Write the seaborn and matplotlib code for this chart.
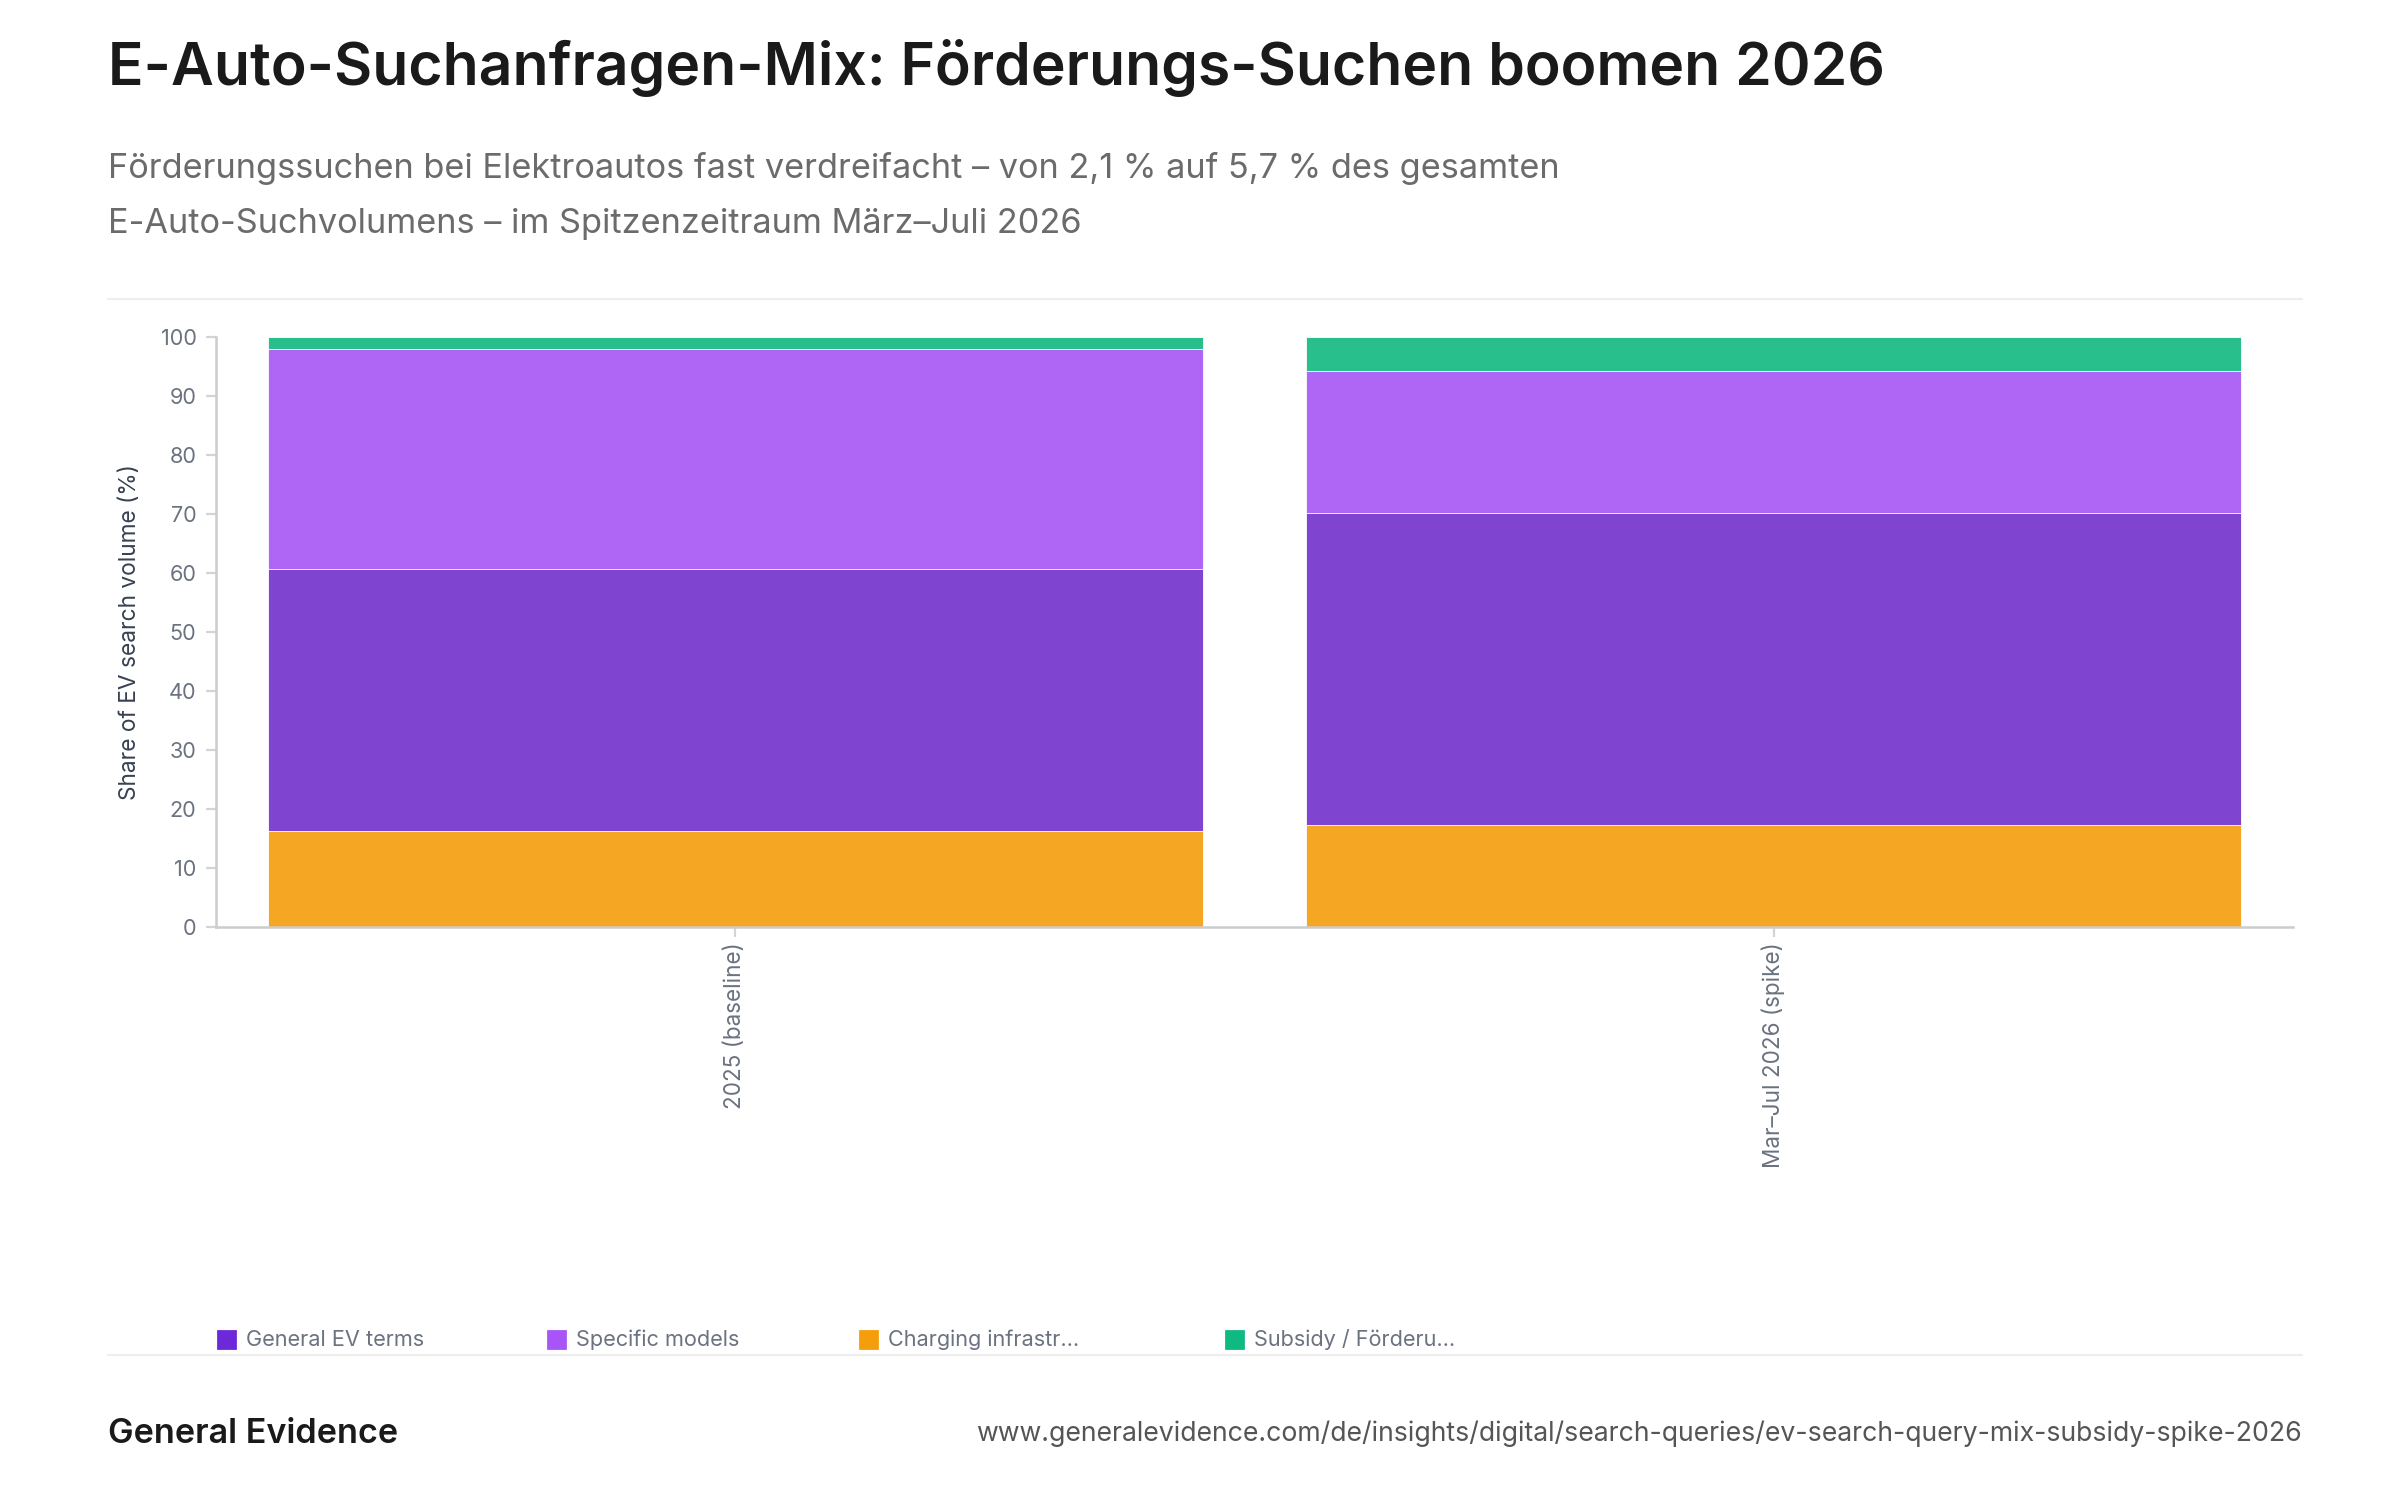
import matplotlib
matplotlib.use("Agg")
import matplotlib.pyplot as plt
from matplotlib.patches import Rectangle
from matplotlib.lines import Line2D
import numpy as np
import pandas as pd
import seaborn as sns

# data (share of EV search volume, %)
periods = ["2025 (baseline)", "Mar–Jul 2026 (spike)"]
charging = [16.3, 17.3]
general = [44.3, 52.8]
specific = [37.3, 24.2]
subsidy = [2.1, 5.7]

legend_labels = ["General EV terms", "Specific models", "Charging infrastr…", "Subsidy / Förderu…"]

# bar colours (as drawn) and legend swatch colours
bar_colors = {"charging": "#F5A623", "general": "#7F45D1", "specific": "#AF66F5", "subsidy": "#28BF8D"}
swatch_colors = ["#6D28D9", "#A855F7", "#F59E0B", "#10B981"]

FONT = ["Inter", "DejaVu Sans"]

sns.set_theme(style="white")
plt.rcParams["font.family"] = FONT

df = pd.DataFrame({
    "Period": periods,
    "charging": charging,
    "general": general,
    "specific": specific,
    "subsidy": subsidy,
})
# cumulative tops, stacked bottom-up: charging, general, specific, subsidy
layers = ["charging", "general", "specific", "subsidy"]
cum = df[layers].cumsum(axis=1)
cum["Period"] = df["Period"]

fig = plt.figure(figsize=(12, 7.5), dpi=200)
ax = fig.add_axes([0.09, 0.382, 0.8654, 0.3933])

# draw from the top layer down so each shorter bar sits over the taller one
for layer in reversed(layers):
    sns.barplot(data=cum, x="Period", y=layer,
                color=bar_colors[layer], width=0.9, saturation=1,
                edgecolor="white", linewidth=0.3, ax=ax)

ax.set_xlim(-0.5, 1.5)
ax.set_ylim(0, 100)
ax.set_yticks(np.arange(0, 101, 10))
ax.set_xlabel("")
ax.set_ylabel("Share of EV search volume (%)", fontsize=8.2, color="#374151", labelpad=7)
ax.tick_params(axis="both", colors="#d1d5db", labelcolor="#6b7280", labelsize=7.8,
               length=3.5, width=0.8, left=True, bottom=True)
ax.tick_params(axis="x", labelrotation=90, pad=2, labelsize=8.1)
for side in ["top", "right"]:
    ax.spines[side].set_visible(False)
for side in ["left", "bottom"]:
    ax.spines[side].set_color("#cccccc")
    ax.spines[side].set_linewidth(0.9)

# header
fig.text(0.045, 0.9433, "E-Auto-Suchanfragen-Mix: Förderungs-Suchen boomen 2026",
         fontsize=21.2, fontweight="semibold", color="#1a1a1a", va="baseline", ha="left")
fig.text(0.045, 0.8813, "Förderungssuchen bei Elektroautos fast verdreifacht – von 2,1 % auf 5,7 % des gesamten",
         fontsize=12.35, color="#6b6b6b", va="baseline", ha="left")
fig.text(0.045, 0.8447, "E-Auto-Suchvolumens – im Spitzenzeitraum März–Juli 2026",
         fontsize=12.35, color="#6b6b6b", va="baseline", ha="left")
fig.add_artist(Line2D([0.045, 0.959], [0.8007, 0.8007], color="#eeeeee", lw=0.8,
                      transform=fig.transFigure))

# legend row
leg_x = [0.0908, 0.2283, 0.3583, 0.5108]
leg_y = 0.1067
sq_w, sq_h = 17 / 2400, 17 / 1500
for x, label, col in zip(leg_x, legend_labels, swatch_colors):
    fig.add_artist(Rectangle((x, leg_y - sq_h / 2), sq_w, sq_h, color=col,
                             transform=fig.transFigure))
    fig.text(x + 0.0117, leg_y, label, fontsize=7.8, color="#6b7280", va="center", ha="left")

fig.add_artist(Line2D([0.045, 0.959], [0.0967, 0.0967], color="#eeeeee", lw=0.8,
                      transform=fig.transFigure))

# footer
fig.text(0.045, 0.044, "General Evidence", fontsize=12.3, fontweight="semibold",
         color="#1a1a1a", va="center", ha="left")
fig.text(0.959, 0.044,
         "www.generalevidence.com/de/insights/digital/search-queries/ev-search-query-mix-subsidy-spike-2026",
         fontsize=9.6, color="#555555", va="center", ha="right")

fig.savefig("out.png", dpi=200, facecolor="white")
